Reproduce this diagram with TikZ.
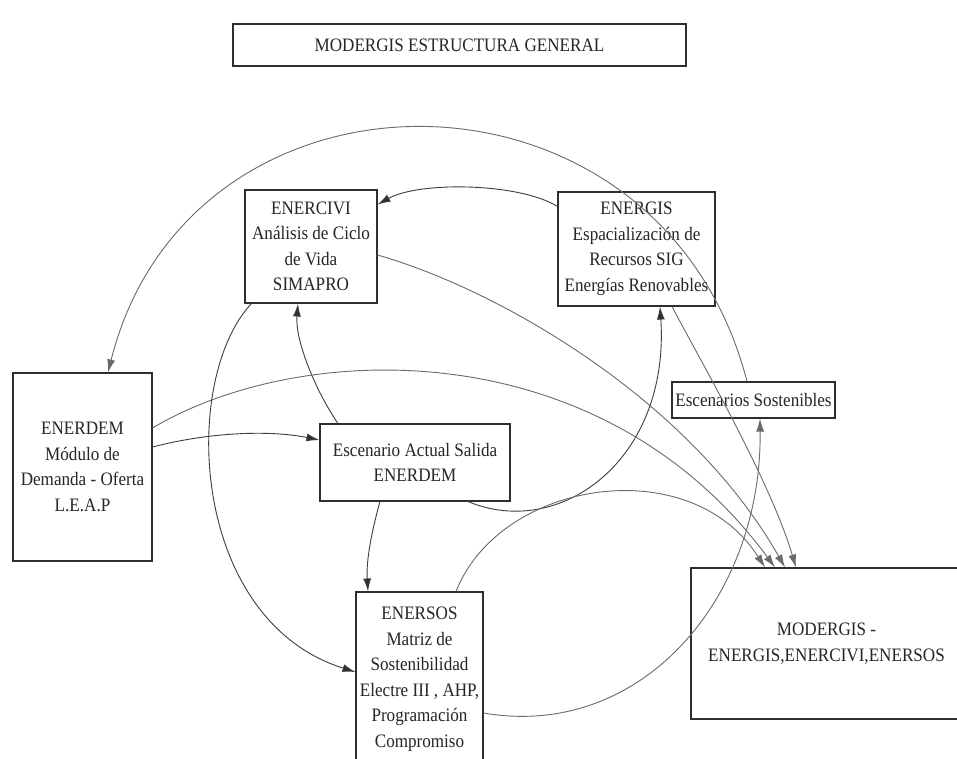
\documentclass[tikz,border=0pt]{standalone}
\usepackage{fontspec}
\setmainfont{Liberation Serif}[FakeStretch=0.9]
\usetikzlibrary{arrows.meta,calc}
\definecolor{linegray}{gray}{0.42}
\definecolor{darkline}{gray}{0.18}
\tikzset{
  box/.style={draw=darkline, line width=1.1pt, fill=white, align=center,
    inner sep=0pt, font=\fontsize{19}{25.5}\selectfont, text=black!85},
  conn/.style={draw=linegray, line width=0.9pt,
    -{Latex[length=13pt,width=8pt,fill=linegray]}},
  dconn/.style={draw=darkline!80!gray, line width=0.9pt,
    -{Latex[length=13pt,width=8pt,fill=darkline]}}
}
\begin{document}
\begin{tikzpicture}[x=1pt,y=-1pt]
\clip (0,0) rectangle (957,758);
\fill[white] (0,0) rectangle (957,758);

% nodes
\node[box, minimum width=453pt, minimum height=42pt] (title) at (459.5,45) {MODERGIS ESTRUCTURA GENERAL};
\node[box, minimum width=132pt, minimum height=113pt] (enercivi) at (311,246.5)
  {ENERCIVI\\Análisis de Ciclo\\de Vida\\SIMAPRO};
\node[box, minimum width=157pt, minimum height=114pt] (energis) at (636.5,249)
  {ENERGIS\\Espacialización de\\Recursos SIG\\Energías Renovables};
\node[box, minimum width=139pt, minimum height=188pt] (enerdem) at (82.5,467)
  {ENERDEM\\Módulo de\\Demanda - Oferta\\L.E.A.P};
\node[box, minimum width=190pt, minimum height=77pt] (escenario) at (415,462.5)
  {Escenario Actual Salida\\ENERDEM};
\node[box, minimum width=127pt, minimum height=174pt] (enersos) at (419.5,679)
  {ENERSOS\\Matriz de\\Sostenibilidad\\Electre III , AHP,\\Programación\\Compromiso};
\node[box, minimum width=163pt, minimum height=36pt] (escsost) at (753.5,400)
  {Escenarios Sostenibles};
\node[box, minimum width=271pt, minimum height=151pt] (modergis) at (826.5,643.5)
  {MODERGIS -\\ENERGIS,ENERCIVI,ENERSOS};

% connectors
\draw[dconn] ($(energis.north west)+(0,15)$) .. controls (520,183) and (420,181) .. ($(enercivi.north east)+(0,15)$);
\draw[conn] ($(escsost.north)+(-6.5,0)$) .. controls (660,45) and (190,45) .. ($(enerdem.north)+(25.5,0)$);
\draw[dconn] ($(escenario.south)+(53,0)$) .. controls (560,540) and (670,460) .. ($(energis.south)+(23.5,0)$);
\draw[dconn] ($(escenario.north)+(-77,0)$) .. controls (315,390) and (295,340) .. ($(enercivi.south)+(-13,0)$);
\draw[dconn] ($(enerdem.east)+(0,-20)$) .. controls (210,432) and (270,430) .. ($(escenario.west)+(0,-22.5)$);
\draw[conn] ($(enerdem.east)+(0,-39)$) .. controls (300,340) and (600,330) .. ($(modergis.north)+(-51.5,0)$);
\draw[conn] ($(enercivi.east)+(0,8.5)$) .. controls (500,290) and (690,400) .. ($(modergis.north)+(-41.5,0)$);
\draw[conn] ($(energis.south)+(35.5,0)$) .. controls (700,360) and (770,480) .. ($(modergis.north)+(-30.5,0)$);
\draw[conn] ($(enersos.north)+(36.5,0)$) .. controls (500,480) and (690,450) .. ($(modergis.north)+(-61.5,0)$);
\draw[dconn] ($(enercivi.south west)+(7,0)$) .. controls (180,380) and (190,620) .. ($(enersos.west)+(0,-7)$);
\draw[dconn] ($(escenario.south)+(-35,0)$) .. controls (372,530) and (366,560) .. ($(enersos.north)+(-51.5,0)$);
\draw[conn] ($(enersos.east)+(0,34)$) .. controls (640,740) and (762,600) .. ($(escsost.south)+(6.5,0)$);
\end{tikzpicture}
\end{document}
